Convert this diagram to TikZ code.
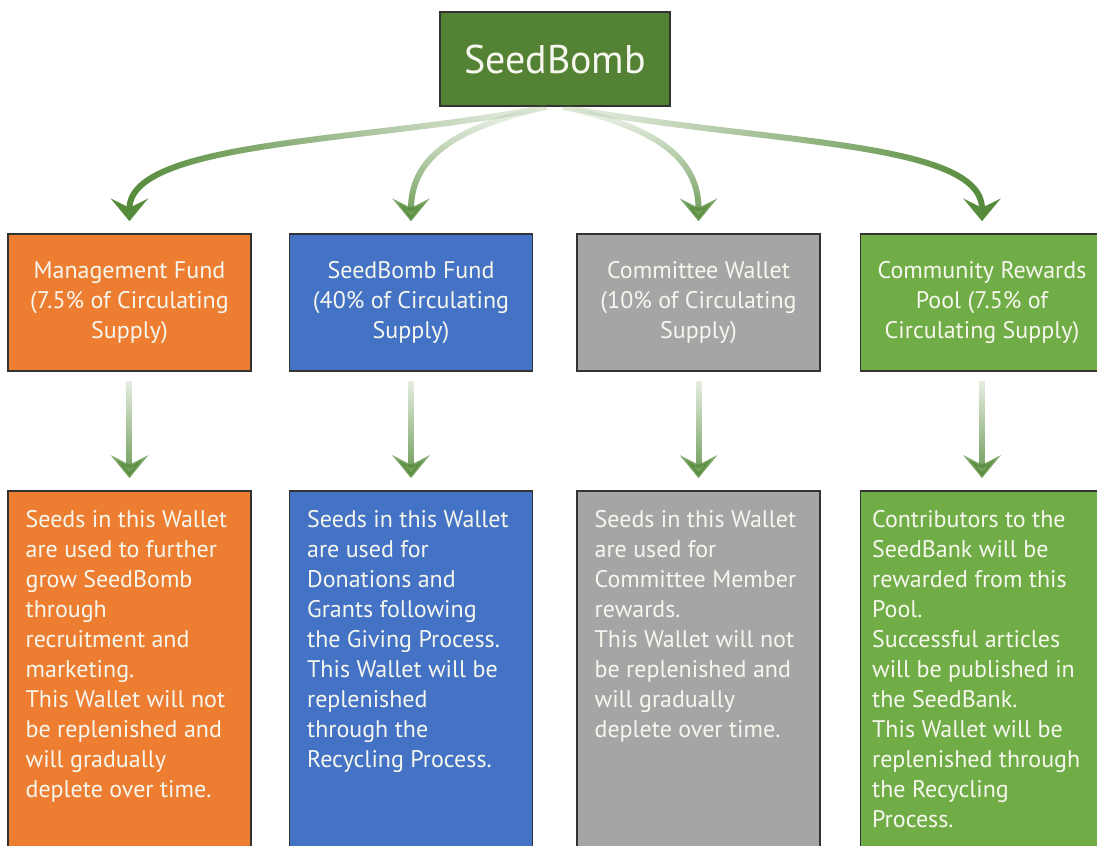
\documentclass[tikz,border=0pt]{standalone}
\usepackage{fontspec}
\setmainfont{PT Sans}
\usetikzlibrary{positioning,arrows.meta,fadings}

\definecolor{sbdark}{HTML}{548235}
\definecolor{sborange}{HTML}{ED7D31}
\definecolor{sbblue}{HTML}{4472C4}
\definecolor{sbgrey}{HTML}{A5A5A5}
\definecolor{sblight}{HTML}{70AD47}
\definecolor{arrowgreen}{HTML}{558B3A}
\definecolor{paper}{RGB}{246,247,238}

\newcommand{\walletfont}{\fontsize{18pt}{22.5pt}\selectfont}
\newcommand{\titlefont}{\fontsize{30pt}{36pt}\selectfont}

\tikzfading[name=fadeeast, left color=transparent!0, right color=transparent!90]
\tikzfading[name=fadewest, left color=transparent!90, right color=transparent!0]
\tikzfading[name=fadenorth, top color=transparent!95, bottom color=transparent!0]

\tikzset{
  box/.style={draw=black!80, line width=1.2pt, text=paper, inner sep=0pt, font=\walletfont},
  fund/.style={box, minimum width=182pt, minimum height=102.75pt, align=center},
  wallet/.style={box, minimum width=182pt, minimum height=277.5pt, anchor=north},
  note/.style={text=paper, inner sep=0pt, anchor=north west, align=left, font=\walletfont},
  flow/.style={draw=arrowgreen, line width=4.5pt, -{Stealth[length=17pt,width=28pt,inset=7pt]}, shorten >=9pt}
}

\begin{document}
\begin{tikzpicture}[x=0.75pt,y=-0.75pt]
  \useasboundingbox (0,0) rectangle (1097,846);
  \clip (0,0) rectangle (1097,846);
  \fill[white] (0,0) rectangle (1097,846);

  \node[box, fill=sbdark, minimum width=172.5pt, minimum height=70.5pt, font=\titlefont] (seedbomb) at (555,59) {SeedBomb};

  \node[fund, fill=sborange] (mgmt) at (129.5,302.5) {Management Fund\\(7.5\% of Circulating\\Supply)};
  \node[fund, fill=sbblue] (fund) at (411,302.5) {SeedBomb Fund\\(40\% of Circulating\\Supply)};
  \node[fund, fill=sbgrey] (cmte) at (698.5,302.5) {Committee Wallet\\(10\% of Circulating\\Supply)};
  \node[fund, fill=sblight] (pool) at (982,302.5) {Community Rewards\\Pool (7.5\% of\\Circulating Supply)};

  \node[wallet, fill=sborange] (mgmtw) at (129.5,490) {};
  \node[wallet, fill=sbblue] (fundw) at (411,490) {};
  \node[wallet, fill=sbgrey] (cmtew) at (698.5,490) {};
  \node[wallet, fill=sblight] (poolw) at (982,490) {};

  \node[note] (mgmtt) at ([xshift=13.5pt, yshift=-15pt]mgmtw.north west) {Seeds in this Wallet\\are used to further\\grow SeedBomb\\through\\recruitment and\\marketing.\\This Wallet will not\\be replenished and\\will gradually\\deplete over time.};
  \node[note] (fundt) at ([xshift=13.5pt, yshift=-15pt]fundw.north west) {Seeds in this Wallet\\are used for\\Donations and\\Grants following\\the Giving Process.\\This Wallet will be\\replenished\\through the\\Recycling Process.};
  \node[note] (cmtet) at ([xshift=13.5pt, yshift=-15pt]cmtew.north west) {Seeds in this Wallet\\are used for\\Committee Member\\rewards.\\This Wallet will not\\be replenished and\\will gradually\\deplete over time.};
  \node[note] (poolt) at ([xshift=9pt, yshift=-15pt]poolw.north west) {Contributors to the\\SeedBank will be\\rewarded from this\\Pool.\\Successful articles\\will be published in\\the SeedBank.\\This Wallet will be\\replenished through\\the Recycling\\Process.};

  \draw[flow, path fading=fadeeast] ([xshift=-6pt]seedbomb.south) .. controls +(-168,35) and +(0,-94) .. (mgmt.north);
  \draw[flow, path fading=fadenorth] ([xshift=-6pt]seedbomb.south) .. controls +(-75,17) and +(0,-84) .. (fund.north);
  \draw[flow, path fading=fadenorth] ([xshift=6pt]seedbomb.south) .. controls +(75,17) and +(0,-84) .. (cmte.north);
  \draw[flow, path fading=fadewest] ([xshift=6pt]seedbomb.south) .. controls +(190,37) and +(0,-94) .. (pool.north);

  \draw[flow, path fading=fadenorth] ([xshift=-20pt]mgmt.south) ([xshift=20pt]mgmt.south) ([yshift=-7pt]mgmt.south) -- (mgmtw.north);
  \draw[flow, path fading=fadenorth] ([xshift=-20pt]fund.south) ([xshift=20pt]fund.south) ([yshift=-7pt]fund.south) -- (fundw.north);
  \draw[flow, path fading=fadenorth] ([xshift=-20pt]cmte.south) ([xshift=20pt]cmte.south) ([yshift=-7pt]cmte.south) -- (cmtew.north);
  \draw[flow, path fading=fadenorth] ([xshift=-20pt]pool.south) ([xshift=20pt]pool.south) ([yshift=-7pt]pool.south) -- (poolw.north);
\end{tikzpicture}
\end{document}
